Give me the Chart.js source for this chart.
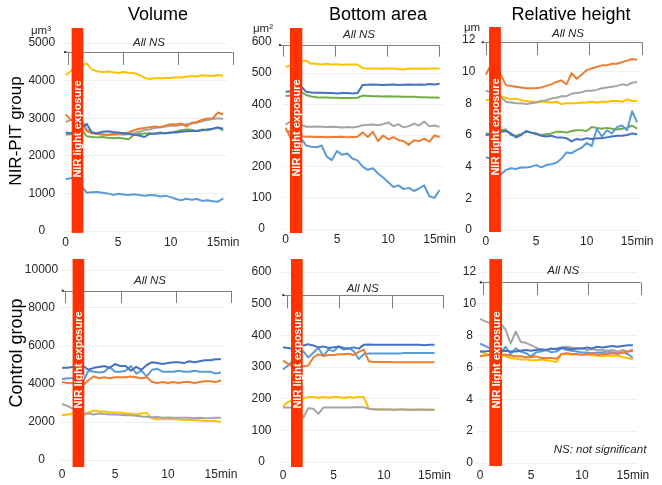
<!DOCTYPE html>
<html>
<head>
<meta charset="utf-8">
<script src="https://cdn.jsdelivr.net/npm/chart.js@4.4.1/dist/chart.umd.min.js"></script>
<style>
  body { margin: 0; background: #fff; }
  #fig { position: relative; width: 662px; height: 485px; overflow: hidden;
         font-family: "Liberation Sans", Arial, sans-serif; color: #000; }
  #fig canvas { position: absolute; }
  .t { position: absolute; white-space: nowrap; line-height: 1; transform: translate(-50%, -50%); z-index: 2; }
  .title { font-size: 18px; }
  .row { font-size: 18px; transform: translate(-50%, -50%) rotate(-90deg); }
  .unit { font-size: 11.5px; color: #262626; }
  .ns { font-size: 11.5px; font-style: italic; color: #262626; }
  .nir { font-size: 11px; font-weight: bold; color: #fff; transform: translate(-50%, -50%) rotate(-90deg); }
</style>
</head>
<body>
<div id="fig">
  <div class="t title" style="left:158px;top:14px">Volume</div>
  <div class="t title" style="left:378px;top:14px">Bottom area</div>
  <div class="t title" style="left:571px;top:14px">Relative height</div>
  <div class="t row" style="left:15px;top:131px;font-size:17px">NIR-PIT group</div>
  <div class="t row" style="left:16px;top:353px">Control group</div>
  <div class="t unit" style="left:41px;top:31px">μm³</div>
  <div class="t unit" style="left:263px;top:29px">μm²</div>
  <div class="t unit" style="left:472px;top:28px">μm</div>
  <div class="t ns" style="left:600px;top:450px">NS: not significant</div>
</div>
<script>
// time in minutes
const times = [0,0.5,1,1.5,2,2.5,3,3.5,4,4.5,5,5.5,6,6.5,7,7.5,8,8.5,9,9.5,10,10.5,11,11.5,12,12.5,13,13.5,14,14.5,15];
const xTicks = [0, 5, 10, 15];

// Volume, NIR-PIT group (µm³)
const volPitBlue = [2620,2600,2650,2750,2850,2620,2600,2640,2650,2630,2620,2600,2580,2560,2540,2500,2580,2590,2600,2600,2620,2620,2640,2650,2660,2660,2680,2700,2720,2750,2720];
const volPitOrange = [3100,2950,2950,2900,2650,2600,2580,2570,2560,2580,2580,2600,2620,2680,2720,2740,2760,2780,2760,2800,2840,2830,2860,2780,2880,2900,2960,2990,3000,3150,3100];
const volPitGray = [2900,2950,3000,2950,2700,2620,2580,2560,2550,2560,2570,2560,2580,2600,2640,2680,2700,2740,2760,2780,2800,2800,2820,2840,2860,2880,2920,2950,2980,3000,2980];
const volPitYellow = [4150,4250,4400,4420,4450,4300,4250,4230,4240,4220,4200,4230,4210,4200,4150,4080,4040,4060,4060,4070,4070,4090,4080,4100,4120,4110,4140,4130,4120,4150,4130];
const volPitLightBlue = [1380,1400,1400,1200,1020,1030,1040,1020,1000,960,990,970,960,980,960,940,960,950,920,940,900,850,820,860,830,850,800,820,790,780,870];
const volPitGreen = [2560,2570,2650,2700,2520,2500,2490,2500,2480,2470,2480,2460,2440,2560,2580,2590,2600,2580,2620,2600,2610,2650,2680,2700,2690,2660,2700,2680,2720,2750,2680];

// Bottom area, NIR-PIT group (µm²)
const areaPitBlue = [440,442,450,458,440,438,437,437,436,436,435,436,436,435,436,462,463,464,463,462,463,464,462,463,464,463,464,463,465,464,466];
const areaPitOrange = [325,290,300,298,296,296,295,295,294,295,295,296,294,295,296,310,295,312,282,300,288,295,285,282,270,285,282,290,280,300,295];
const areaPitGray = [335,345,340,335,328,328,329,328,327,328,327,326,327,326,328,333,334,335,333,336,342,330,336,326,330,338,332,345,330,332,328];
const areaPitYellow = [520,525,535,540,540,530,530,528,530,528,529,527,528,528,528,516,515,515,515,514,515,515,513,512,515,514,515,514,515,515,515];
const areaPitLightBlue = [315,312,310,290,268,264,262,268,232,221,250,238,242,226,220,200,190,195,178,165,150,135,140,128,132,122,130,140,105,100,125];
const areaPitGreen = [427,428,432,440,430,425,423,422,422,421,421,420,420,420,421,428,427,426,426,425,426,425,425,424,424,424,423,423,422,422,421];

// Relative height, NIR-PIT group (µm)
const hgtPitBlue = [6.0,6.05,6.1,6.2,6.25,6.1,5.85,6.0,6.25,6.15,6.1,5.95,5.9,5.95,5.85,5.85,5.8,5.6,5.75,5.7,5.8,5.75,5.8,5.8,5.85,5.9,5.95,5.95,6.0,6.1,6.05];
const hgtPitOrange = [9.8,10.4,10.3,9.8,9.15,9.1,9.05,9.0,8.95,8.95,8.95,9.0,9.1,9.2,9.35,9.45,9.2,9.9,9.55,9.8,10.1,10.2,10.3,10.4,10.4,10.5,10.5,10.6,10.7,10.8,10.75];
const hgtPitGray = [8.8,8.7,8.6,8.4,8.1,8.05,8.0,8.0,7.95,8.0,8.05,8.15,8.2,8.3,8.35,8.45,8.45,8.6,8.65,8.7,8.8,8.8,8.85,8.95,9.0,9.05,9.1,9.2,9.15,9.3,9.35];
const hgtPitYellow = [8.2,8.25,8.35,8.4,8.35,8.25,8.3,8.2,8.15,8.1,8.1,8.1,8.1,8.05,8.1,7.95,8.0,8.0,8.0,8.05,8.05,8.1,8.05,8.1,8.1,8.15,8.15,8.1,8.25,8.15,8.15];
const hgtPitLightBlue = [4.6,4.5,4.0,3.5,3.8,3.9,3.85,3.95,3.95,4.0,4.1,3.95,4.1,4.15,4.25,4.5,4.9,4.85,5.05,5.2,5.5,5.3,6.4,5.9,6.3,6.1,6.5,6.6,6.3,7.5,6.8];
const hgtPitGreen = [6.1,6.05,6.1,6.3,6.35,6.0,5.95,6.05,6.2,6.15,6.05,6.0,6.05,6.1,6.2,6.2,6.15,6.25,6.3,6.3,6.25,6.5,6.45,6.4,6.45,6.4,6.35,6.4,6.45,6.6,6.4];

// Volume, control group
const volCtlBlue = [4850,4850,4900,4950,4950,4750,4850,4900,4950,4850,5050,4950,4950,4700,4900,4750,5000,5150,5100,5050,5100,5150,5150,5100,5200,5150,5200,5250,5250,5300,5300];
const volCtlOrange = [4100,4050,4050,4000,3950,4200,4400,4300,4350,4300,4350,4350,4350,4400,4350,4300,4350,4100,4050,4100,4050,4100,4050,4100,4100,4050,4100,4150,4150,4100,4200];
const volCtlGray = [2950,2850,2700,2550,2450,2450,2400,2450,2420,2400,2400,2380,2360,2350,2330,2290,2280,2250,2260,2230,2240,2230,2220,2230,2220,2200,2220,2200,2210,2230,2220];
const volCtlYellow = [2350,2400,2450,2500,2350,2500,2600,2550,2550,2500,2500,2500,2450,2450,2400,2450,2480,2180,2150,2150,2150,2150,2150,2100,2100,2100,2080,2050,2050,2050,2000];
const volCtlLightBlue = [4250,4300,4300,4250,4150,4700,4650,4600,4650,4900,4650,4650,4700,4950,4550,4700,4400,4750,4800,4650,4650,4650,4700,4650,4650,4700,4650,4650,4650,4550,4600];

// Bottom area, control group
const areaCtlBlue = [362,360,358,365,368,372,368,362,365,360,362,365,360,358,362,358,370,371,370,370,370,370,370,370,370,370,370,370,369,370,370];
const areaCtlOrange = [320,310,300,302,302,305,330,340,335,338,338,340,340,342,338,348,355,318,316,316,316,316,315,315,315,315,315,315,315,315,315];
const areaCtlGray = [172,172,172,170,140,170,168,152,172,172,172,172,172,172,173,173,173,168,166,166,166,166,165,166,166,165,165,166,165,165,165];
const areaCtlYellow = [175,190,195,198,200,205,205,203,205,203,205,205,202,205,203,205,205,168,167,166,166,166,165,166,166,165,165,166,165,165,165];
const areaCtlLightBlue = [292,305,320,330,350,330,345,360,335,355,350,365,355,360,350,325,340,343,343,343,343,343,343,343,344,344,344,344,344,344,344];

// Relative height, control group
const hgtCtlBlue = [7.0,7.0,7.05,7.0,7.0,7.05,7.0,7.0,7.05,7.1,7.05,7.1,7.15,7.1,7.2,7.15,7.25,7.2,7.15,7.2,7.2,7.25,7.2,7.3,7.25,7.3,7.35,7.3,7.35,7.4,7.4];
const hgtCtlOrange = [6.7,6.75,6.8,6.8,6.85,6.8,6.75,6.7,6.7,6.65,6.65,6.7,6.6,6.6,6.6,6.55,6.85,6.9,6.85,6.85,6.8,6.85,6.9,6.8,6.85,6.85,6.9,6.85,6.95,7.0,7.05];
const hgtCtlGray = [9.05,8.9,8.8,8.9,8.75,8.4,7.5,8.25,7.6,7.55,7.4,7.25,7.1,7.1,7.15,7.2,7.25,7.3,7.25,7.2,7.2,7.1,7.15,7.1,7.1,7.05,7.1,7.0,7.1,7.0,7.15];
const hgtCtlYellow = [7.05,6.85,6.8,6.75,6.75,6.7,6.6,6.55,6.5,6.5,6.45,6.45,6.5,6.45,6.4,6.35,6.85,6.85,6.8,6.85,6.8,6.8,6.75,6.75,6.7,6.75,6.7,6.75,6.65,6.6,6.5];
const hgtCtlLightBlue = [7.5,7.35,7.2,7.0,6.9,7.3,6.85,7.2,7.0,6.9,6.7,6.95,7.0,7.1,6.95,7.0,7.2,7.1,7.05,7.0,6.95,6.95,6.9,6.95,6.95,7.0,6.95,6.9,6.95,6.85,6.6];

const C = { blue: '#4472C4', orange: '#ED7D31', gray: '#A5A5A5', yellow: '#FFC000', lightBlue: '#5B9BD5', green: '#70AD47' };

// box: canvas [left, top, width, height]; area: plot area [left, top, right, bottom] in page px
// bar / bracket positions are in data units (minutes, axis value)
const panels = [
  { box: [15, 18, 230, 234], area: [62.5, 43, 227.4, 231], yMax: 5000, yStep: 1000, yPad: 7.4, xPad: -4,
    series: [[volPitBlue, C.blue], [volPitOrange, C.orange], [volPitGray, C.gray], [volPitYellow, C.yellow], [volPitLightBlue, C.lightBlue], [volPitGreen, C.green]],
    bar: [0.57, 1.68, 5400, -50], barTextY: 2700,
    bracket: { x0: -0.05, ticks: [0.25, 5.46, 10.7, 15.9], y: 4760, y2: 4415, textX: 7.93, textY: 5000 } },
  { box: [240, 18, 220, 234], area: [282.6, 42, 443.7, 229], yMax: 600, yStep: 100, yPad: 10.9, xPad: -5,
    series: [[areaPitBlue, C.blue], [areaPitOrange, C.orange], [areaPitGray, C.gray], [areaPitYellow, C.yellow], [areaPitLightBlue, C.lightBlue], [areaPitGreen, C.green]],
    bar: [0.42, 1.62, 645, -13], barTextY: 325,
    bracket: { x0: -0.56, ticks: [-0.29, 4.8, 9.9, 14.97], y: 590, y2: 553, textX: 7.14, textY: 622 } },
  { box: [455, 18, 207, 234], area: [482.7, 40, 641.2, 230], yMax: 12, yStep: 2, yPad: 7.4, xPad: -4,
    series: [[hgtPitBlue, C.blue], [hgtPitOrange, C.orange], [hgtPitGray, C.gray], [hgtPitYellow, C.yellow], [hgtPitLightBlue, C.lightBlue], [hgtPitGreen, C.green]],
    bar: [0.33, 1.5, 12.82, -0.13], barTextY: 6.5,
    bracket: { x0: -0.3, ticks: [0, 5.05, 10.26, 15.48], y: 11.86, y2: 11.05, textX: 8.15, textY: 12.38 } },
  { box: [15, 252, 230, 233], area: [58.8, 270, 225.2, 460], yMax: 10000, yStep: 2000, yPad: 0.6, xPad: -1,
    series: [[volCtlBlue, C.blue], [volCtlOrange, C.orange], [volCtlGray, C.gray], [volCtlYellow, C.yellow], [volCtlLightBlue, C.lightBlue]],
    bar: [1.0, 2.1, 10579, -368], barTextY: 5263,
    bracket: { x0: 0.07, ticks: [0.28, 5.54, 10.73, 15.94], y: 8910, y2: 8263, textX: 8.3, textY: 9437 } },
  { box: [240, 252, 220, 233], area: [280, 272, 438.5, 462], yMax: 600, yStep: 100, yPad: 8.5, xPad: -1.5,
    series: [[areaCtlBlue, C.blue], [areaCtlOrange, C.orange], [areaCtlGray, C.gray], [areaCtlYellow, C.yellow], [areaCtlLightBlue, C.lightBlue]],
    bar: [0.79, 1.95, 641, -16], barTextY: 322,
    bracket: { x0: 0.03, ticks: [0.37, 5.54, 10.76, 15.87], y: 527, y2: 485, textX: 7.89, textY: 545 } },
  { box: [455, 252, 207, 233], area: [477, 272, 637, 463], yMax: 12, yStep: 2, yPad: 0.8, xPad: -3,
    series: [[hgtCtlBlue, C.blue], [hgtCtlOrange, C.orange], [hgtCtlGray, C.gray], [hgtCtlYellow, C.yellow], [hgtCtlLightBlue, C.lightBlue]],
    bar: [0.91, 2.16, 12.81, -0.19], barTextY: 6.45,
    bracket: { x0: 0.07, ticks: [0.32, 5.56, 10.62, 15.75], y: 11.35, y2: 10.55, textX: 8.17, textY: 12.06 } }
];

Chart.defaults.font.family = '"Liberation Sans", Arial, sans-serif';
Chart.defaults.font.size = 12;
Chart.defaults.color = '#262626';

function place(el, x, y) {
  el.style.left = x + 'px';
  el.style.top = y + 'px';
}

const overlay = {
  id: 'overlay',
  afterDatasetsDraw(chart, args, o) {
    const { ctx } = chart;
    const xs = chart.scales.x, ys = chart.scales.y;
    const px = v => xs.getPixelForValue(v), py = v => ys.getPixelForValue(v);
    const b = o.bracket;
    ctx.save();
    ctx.strokeStyle = '#7f7f7f';
    ctx.lineWidth = 1;
    ctx.beginPath();
    ctx.moveTo(px(b.x0), Math.round(py(b.y)) + 0.5);
    ctx.lineTo(px(b.ticks[b.ticks.length - 1]), Math.round(py(b.y)) + 0.5);
    b.ticks.forEach(t => {
      ctx.moveTo(Math.round(px(t)) + 0.5, py(b.y));
      ctx.lineTo(Math.round(px(t)) + 0.5, py(b.y2));
    });
    ctx.stroke();
    ctx.fillStyle = '#333';
    ctx.fillRect(px(b.x0) - 1, py(b.y) - 1, 2, 2);
    ctx.fillStyle = '#FF3300';
    ctx.fillRect(px(o.bar[0]), py(o.bar[2]), px(o.bar[1]) - px(o.bar[0]), py(o.bar[3]) - py(o.bar[2]));
    ctx.restore();

    const ox = chart.canvas.offsetLeft, oy = chart.canvas.offsetTop;
    place(o.barLabel, ox + (px(o.bar[0]) + px(o.bar[1])) / 2, oy + py(o.barTextY));
    place(o.nsLabel, ox + px(b.textX), oy + py(b.textY));
  }
};

const fig = document.getElementById('fig');

panels.forEach(p => {
  const [bl, bt, bw, bh] = p.box;
  const [al, at, ar, ab] = p.area;
  const canvas = document.createElement('canvas');
  canvas.width = bw; canvas.height = bh;
  canvas.style.left = bl + 'px'; canvas.style.top = bt + 'px';
  canvas.style.width = bw + 'px'; canvas.style.height = bh + 'px';
  fig.appendChild(canvas);

  const barLabel = document.createElement('div');
  barLabel.className = 't nir';
  barLabel.textContent = 'NIR light exposure';
  fig.appendChild(barLabel);
  const nsLabel = document.createElement('div');
  nsLabel.className = 't ns';
  nsLabel.textContent = 'All NS';
  fig.appendChild(nsLabel);

  const yW = al - bl, xH = bt + bh - ab;

  new Chart(canvas, {
    type: 'line',
    data: {
      datasets: p.series.map(([vals, color]) => ({
        data: vals.map((v, i) => ({ x: times[i], y: v })),
        borderColor: color,
        borderWidth: 2,
        pointRadius: 0,
        tension: 0,
        borderJoinStyle: 'round'
      }))
    },
    options: {
      responsive: false,
      animation: false,
      events: [],
      layout: { padding: { left: 0, top: at - bt, right: bl + bw - ar, bottom: 0 } },
      plugins: {
        legend: { display: false },
        tooltip: { enabled: false },
        overlay: { bar: p.bar, barTextY: p.barTextY, bracket: p.bracket, barLabel, nsLabel }
      },
      scales: {
        x: {
          type: 'linear', min: -0.3, max: 15.4,
          grid: { display: false }, border: { display: false },
          afterBuildTicks: s => { s.ticks = xTicks.map(v => ({ value: v })); },
          afterFit: s => { s.height = xH; },
          ticks: { padding: p.xPad, maxRotation: 0, autoSkip: false,
                   callback: v => (v === 15 ? '15min' : String(v)) }
        },
        y: {
          min: 0, max: p.yMax,
          grid: { color: '#f0f0f0', drawTicks: false }, border: { display: false },
          afterFit: s => { s.width = yW; },
          ticks: { stepSize: p.yStep, padding: p.yPad, crossAlign: 'center',
                   callback: v => String(v) }
        }
      }
    },
    plugins: [overlay]
  });
});
</script>
</body>
</html>
